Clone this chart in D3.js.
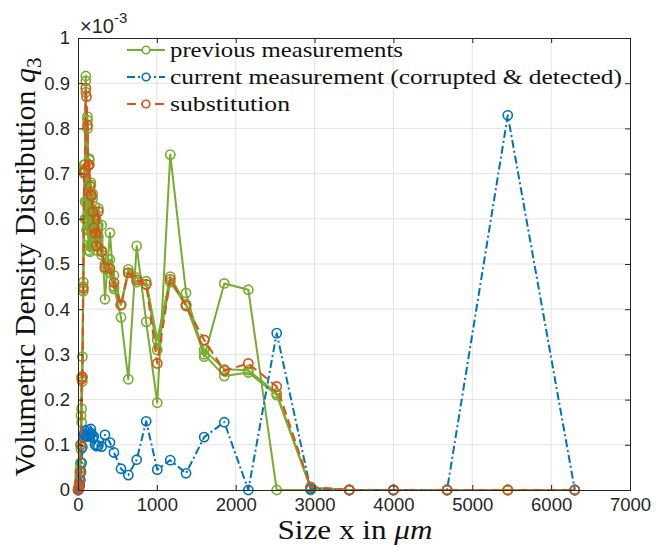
<!DOCTYPE html>
<html>
<head>
<meta charset="utf-8">
<script src="https://cdn.jsdelivr.net/npm/d3@7"></script>
<style>
  html, body { margin: 0; padding: 0; background: #fff; }
  svg { display: block; }
</style>
</head>
<body>
<svg id="chart" width="656" height="547"></svg>
<script>
// Particle size classes (µm)
const sizes = [2, 8, 15, 22, 30, 38, 46, 55, 67, 78, 89, 99, 108, 120, 131, 142, 152, 163, 173, 186,
  200, 216, 235, 258, 300, 342, 405, 456, 545, 638, 744, 865, 1005, 1170, 1370, 1600, 1855, 2160,
  2520, 2950, 3440, 4000, 4680, 5450, 6300];

// q3 values in units of 1e-3 per class
const previousA = [0, 0.002, 0.01, 0.04, 0.1, 0.165, 0.25, 0.295, 0.46, 0.72, 0.638, 0.916, 0.575, 0.826,
  0.53, 0.733, 0.527, 0.68, 0.54, 0.645, 0.6, 0.627, 0.54, 0.623, 0.586, 0.422, 0.569, 0.45, 0.382,
  0.245, 0.54, 0.372, 0.193, 0.742, 0.436, 0.295, 0.457, 0.443, 0, 0, 0, 0, 0, 0, 0];
const previousB = [0, 0.003, 0.015, 0.03, 0.06, 0.1, 0.18, 0.25, 0.45, 0.71, 0.72, 0.905, 0.64, 0.818,
  0.6, 0.73, 0.58, 0.675, 0.62, 0.655, 0.59, 0.6, 0.56, 0.585, 0.53, 0.5, 0.51, 0.475, 0.41,
  0.488, 0.47, 0.462, 0.332, 0.472, 0.41, 0.31, 0.267, 0.265, 0.214, 0.005, 0, 0, 0, 0, 0];
const previousC = [0, 0.001, 0.005, 0.02, 0.05, 0.09, 0.15, 0.24, 0.44, 0.7, 0.6, 0.88, 0.6, 0.8,
  0.56, 0.72, 0.54, 0.66, 0.57, 0.62, 0.55, 0.58, 0.53, 0.56, 0.52, 0.49, 0.48, 0.445, 0.41,
  0.48, 0.46, 0.455, 0.31, 0.46, 0.41, 0.3, 0.252, 0.26, 0.21, 0.004, 0, 0, 0, 0, 0];
const current = [0, 0.002, 0.008, 0.012, 0.022, 0.04, 0.06, 0.095, 0.118, 0.123, 0.13, 0.12, 0.118, 0.133,
  0.128, 0.12, 0.124, 0.135, 0.125, 0.115, 0.118, 0.1, 0.097, 0.098, 0.096, 0.122, 0.105, 0.083, 0.047,
  0.033, 0.067, 0.152, 0.045, 0.066, 0.037, 0.117, 0.15, 0, 0.347, 0.002, 0, 0, 0, 0.829, 0];
const substitution = [0, 0.005, 0.01, 0.02, 0.04, 0.1, 0.245, 0.25, 0.446, 0.703, 0.708, 0.889, 0.87, 0.807,
  0.717, 0.72, 0.672, 0.653, 0.65, 0.616, 0.58, 0.568, 0.54, 0.616, 0.527, 0.493, 0.49, 0.459, 0.409,
  0.481, 0.465, 0.455, 0.28, 0.466, 0.407, 0.332, 0.264, 0.28, 0.229, 0.007, 0, 0, 0, 0, 0];

const xTicks = [0, 1000, 2000, 3000, 4000, 5000, 6000, 7000];
const yTicks = [0, 0.1, 0.2, 0.3, 0.4, 0.5, 0.6, 0.7, 0.8, 0.9, 1];
const legendLabels = ["previous measurements", "current measurement (corrupted & detected)", "substitution"];

const colors = { green: "#77AC30", blue: "#0072BD", red: "#D95319" };

const svg = d3.select("#chart");
const m = { left: 78, top: 38, right: 26, bottom: 57 };
const W = 656 - m.left - m.right;
const H = 547 - m.top - m.bottom;

const x = d3.scaleLinear().domain([0, 7000]).range([0, W]);
const y = d3.scaleLinear().domain([0, 1]).range([H, 0]);

const g = svg.append("g").attr("transform", `translate(${m.left},${m.top})`);

// grid
g.append("g").selectAll("line").data(xTicks.slice(1, -1)).join("line")
  .attr("x1", d => x(d)).attr("x2", d => x(d)).attr("y1", 0).attr("y2", H)
  .attr("stroke", "#e3e3e3").attr("stroke-width", 1);
g.append("g").selectAll("line").data(yTicks.slice(1, -1)).join("line")
  .attr("y1", d => y(d)).attr("y2", d => y(d)).attr("x1", 0).attr("x2", W)
  .attr("stroke", "#e3e3e3").attr("stroke-width", 1);

// axes (ticks point inward)
const tickFont = "'Liberation Sans', Arial, sans-serif";
const xAxis = d3.axisBottom(x).tickValues(xTicks).tickSize(-5).tickPadding(8).tickFormat(d3.format("d"));
const yAxis = d3.axisLeft(y).tickValues(yTicks).tickSize(-5).tickPadding(8).tickFormat(d => d === 0 ? "0" : d === 1 ? "1" : d3.format(".1f")(d));
const xTop = d3.axisTop(x).tickValues(xTicks).tickSize(-5).tickFormat("");
const yRight = d3.axisRight(y).tickValues(yTicks).tickSize(-5).tickFormat("");

function styleAxis(sel) {
  sel.select(".domain").attr("stroke", "#262626").attr("stroke-width", 1);
  sel.selectAll(".tick line").attr("stroke", "#262626").attr("stroke-width", 1);
  sel.selectAll("text").attr("font-family", tickFont).attr("font-size", 18.5).attr("fill", "#262626");
}

// data lines
g.append("clipPath").attr("id", "plotclip").append("rect")
  .attr("x", -6).attr("y", -6).attr("width", W + 12).attr("height", H + 12);

const line = d3.line().x(d => x(d[0])).y(d => y(d[1]));
const series = [
  { vals: previousA, color: colors.green, dash: null },
  { vals: previousB, color: colors.green, dash: null },
  { vals: previousC, color: colors.green, dash: null },
  { vals: current, color: colors.blue, dash: "8,3,2,3" },
  { vals: substitution, color: colors.red, dash: "9,5" }
];

const plot = g.append("g").attr("clip-path", "url(#plotclip)");
series.forEach(s => {
  const pts = sizes.map((sz, i) => [sz, s.vals[i]]);
  const sg = plot.append("g");
  sg.append("path").datum(pts).attr("d", line)
    .attr("fill", "none").attr("stroke", s.color).attr("stroke-width", 2)
    .attr("stroke-dasharray", s.dash).attr("stroke-linejoin", "round");
  sg.selectAll("circle").data(pts).join("circle")
    .attr("cx", d => x(d[0])).attr("cy", d => y(d[1])).attr("r", 4.6)
    .attr("fill", "none").attr("stroke", s.color).attr("stroke-width", 1.6);
});

g.append("g").attr("transform", `translate(0,${H})`).call(xAxis).call(styleAxis);
g.append("g").call(yAxis).call(styleAxis);
g.append("g").call(xTop).call(styleAxis);
g.append("g").attr("transform", `translate(${W},0)`).call(yRight).call(styleAxis);

// exponent label
const expo = svg.append("text").attr("x", 80).attr("y", 33)
  .attr("font-family", tickFont).attr("font-size", 20).attr("fill", "#262626");
expo.append("tspan").text("×10");
expo.append("tspan").attr("dy", -10).attr("font-size", 15).text("-3");

// legend
const serif = "'Liberation Serif', 'Times New Roman', serif";
const legendWidths = [233, 452, 120];
const leg = g.append("g").attr("transform", "translate(49,12)");
const legendStyles = [series[0], series[3], series[4]];
legendLabels.forEach((lab, i) => {
  const row = leg.append("g").attr("transform", `translate(0,${i * 27})`);
  const s = legendStyles[i];
  row.append("line").attr("x1", 0).attr("x2", 38).attr("y1", 0).attr("y2", 0)
    .attr("stroke", s.color).attr("stroke-width", 2).attr("stroke-dasharray", s.dash);
  row.append("circle").attr("cx", 19).attr("cy", 0).attr("r", 3.8)
    .attr("fill", "#fff").attr("stroke", s.color).attr("stroke-width", 1.6);
  row.append("text").attr("x", 43).attr("y", 7).text(lab)
    .attr("font-family", serif).attr("font-size", 22).attr("fill", "#111")
    .attr("textLength", legendWidths[i]).attr("lengthAdjust", "spacingAndGlyphs");
});

// axis titles
svg.append("text").attr("x", m.left + W / 2 + 1).attr("y", 539).attr("text-anchor", "middle")
  .attr("font-family", serif).attr("font-size", 27).attr("fill", "#111")
  .attr("textLength", 155).attr("lengthAdjust", "spacingAndGlyphs")
  .call(t => { t.append("tspan").text("Size x in "); t.append("tspan").attr("font-style", "italic").text("μm"); });

const yl = svg.append("text").attr("transform", `translate(35,${m.top + H / 2 + 3}) rotate(-90)`)
  .attr("text-anchor", "middle").attr("font-family", serif).attr("font-size", 30).attr("fill", "#111");
yl.append("tspan").text("Volumetric Density Distribution ");
yl.append("tspan").attr("font-style", "italic").text("q");
yl.append("tspan").attr("dy", 6).attr("font-size", 21).text("3");
</script>
</body>
</html>
